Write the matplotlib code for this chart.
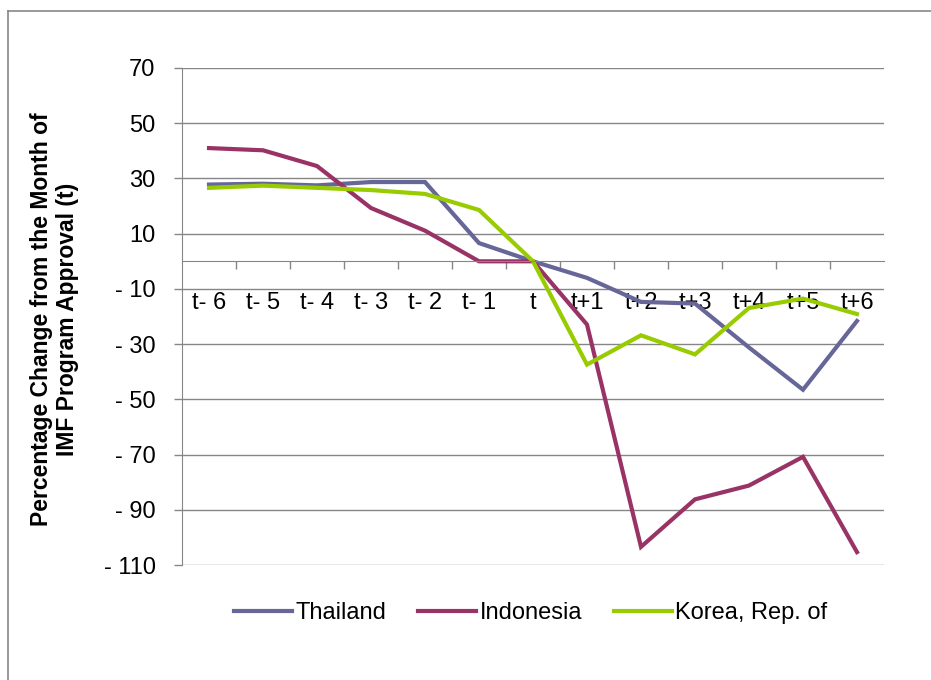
import matplotlib.pyplot as plt
from matplotlib.lines import Line2D

plt.rcParams['font.family'] = ['Liberation Sans', 'DejaVu Sans']

periods = ['t- 6', 't- 5', 't- 4', 't- 3', 't- 2', 't- 1', 't',
           't+1', 't+2', 't+3', 't+4', 't+5', 't+6']

thailand = [27.8, 28.1, 27.5, 28.7, 28.7, 6.6, 0.0,
            -6.0, -14.7, -15.3, -31.2, -46.5, -21.6]
indonesia = [41.0, 40.2, 34.5, 19.3, 11.1, 0.0, 0.0,
             -22.9, -103.4, -86.2, -81.2, -70.8, -105.3]
korea = [26.6, 27.4, 26.6, 25.8, 24.4, 18.6, 0.0,
         -37.4, -26.8, -33.7, -16.9, -13.5, -19.1]

series = [('Thailand', thailand, '#666699'),
          ('Indonesia', indonesia, '#993366'),
          ('Korea, Rep. of', korea, '#99CC00')]

y_ticks = list(range(70, -111, -20))
grid_color = '#868686'


def fmt_tick(v):
    return f'- {abs(v)}' if v < 0 else str(v)


fig = plt.figure(figsize=(9.31, 6.80), dpi=100, facecolor='white')
ax = fig.add_axes([0.1955, 0.169, 0.754, 0.731])

x = list(range(len(periods)))
for name, vals, col in series:
    ax.plot(x, vals, color=col, lw=3.0, label=name, solid_joinstyle='miter')

ax.set_xlim(-0.5, len(periods) - 0.5)
ax.set_ylim(-110, 70)

# horizontal gridlines
ax.set_yticks(y_ticks)
ax.set_yticklabels([fmt_tick(v) for v in y_ticks])
ax.yaxis.grid(True, color=grid_color, lw=1.0)
ax.set_axisbelow(True)
ax.tick_params(axis='y', direction='out', length=6, width=1.0,
               color=grid_color, pad=13, labelsize=17)

# category axis sits at zero, ticks between categories
ax.spines['top'].set_visible(False)
ax.spines['right'].set_visible(False)
ax.spines['left'].set_color(grid_color)
ax.spines['bottom'].set_color(grid_color)
ax.spines['bottom'].set_position(('data', 0))
ax.set_xticks(x)
ax.set_xticklabels(periods)
ax.set_xticks([i - 0.5 for i in range(1, len(periods))], minor=True)
ax.tick_params(axis='x', which='major', length=0, pad=22, labelsize=17)
ax.tick_params(axis='x', which='minor', direction='out', length=6,
               width=1.0, color=grid_color)

ax.set_ylabel('Percentage Change from the Month of\nIMF Program Approval (t)',
              fontsize=16.5, fontweight='bold', linespacing=1.15,
              va='center', ha='center')
ax.yaxis.set_label_coords(-0.182, 0.495)

ax.legend(loc='center', bbox_to_anchor=(0.570, 0.098),
          bbox_transform=fig.transFigure, ncol=3, frameon=False,
          fontsize=17, handlelength=2.45, handletextpad=0.15,
          columnspacing=1.35)

# chart area border
fig.add_artist(Line2D([8 / 931, 1.0], [1 - 11 / 680, 1 - 11 / 680],
                      color='#888888', lw=1.2, transform=fig.transFigure))
fig.add_artist(Line2D([8 / 931, 8 / 931], [0.0, 1 - 11 / 680],
                      color='#888888', lw=1.2, transform=fig.transFigure))

fig.savefig('out.png', dpi=100, facecolor='white')
